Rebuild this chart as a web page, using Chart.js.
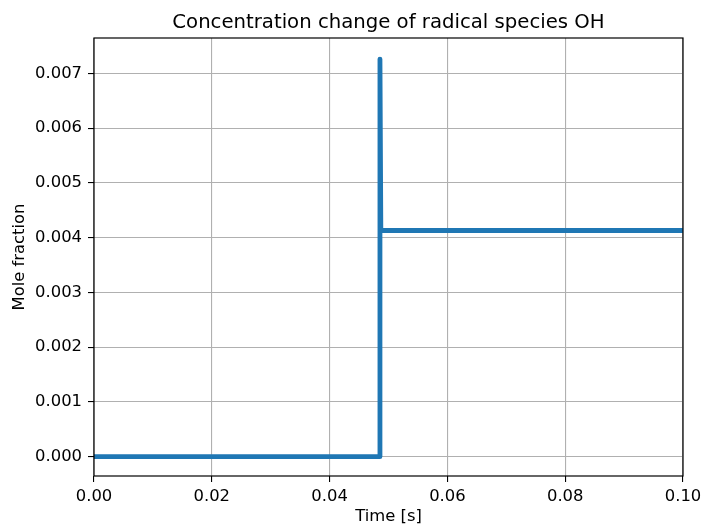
<!DOCTYPE html>
<html>
<head>
<meta charset="utf-8">
<script src="https://cdn.jsdelivr.net/npm/chart.js@4"></script>
<style>
  body { margin: 0; background: #fff; }
</style>
</head>
<body>
<canvas id="ohChart" width="703" height="529"></canvas>
<script>
// OH mole fraction vs. time (ignition spike, then equilibrium level)
const timeS = [0, 0.0485, 0.04855, 0.0487, 0.1]
const ohFraction = [0, 0, 0.00726, 0.00413, 0.00413]
const xTicks = [0, 0.02, 0.04, 0.06, 0.08, 0.1]
const yTicks = [0, 0.001, 0.002, 0.003, 0.004, 0.005, 0.006, 0.007]

const font = 'DejaVu Sans'
const labelSize = 16.4

// frame around the plot area plus the title on top
const frame = {
  id: 'frame',
  afterDraw(chart) {
    const { ctx, chartArea: a } = chart
    ctx.save()
    ctx.strokeStyle = '#000'
    ctx.lineWidth = 1.2
    ctx.strokeRect(a.left, a.top, a.right - a.left, a.bottom - a.top)
    ctx.fillStyle = '#000'
    ctx.font = '19.7px "' + font + '"'
    ctx.textAlign = 'center'
    ctx.textBaseline = 'alphabetic'
    ctx.fillText('Concentration change of radical species OH', (a.left + a.right) / 2, 28)
    ctx.restore()
  }
}

const ctx = document.getElementById('ohChart').getContext('2d')
const ohChart = new Chart(ctx, {
  type: 'scatter',
  data: {
    datasets: [{
      data: timeS.map((t, i) => ({ x: t, y: ohFraction[i] })),
      showLine: true,
      borderColor: '#1f77b4',
      borderWidth: 4.8,
      pointRadius: 0,
      borderJoinStyle: 'round',
      borderCapStyle: 'butt',
      tension: 0
    }]
  },
  options: {
    responsive: false,
    animation: false,
    layout: { padding: { top: 38, right: 20 } },
    plugins: { legend: { display: false }, tooltip: { enabled: false } },
    scales: {
      x: {
        type: 'linear',
        min: 0,
        max: 0.1,
        afterFit: s => { s.height = 53; s.paddingLeft = 0; s.paddingRight = 0 },
        afterBuildTicks: s => { s.ticks = xTicks.map(v => ({ value: v })) },
        grid: { color: '#b0b0b0', lineWidth: 1.1, tickColor: '#000', tickLength: 6 },
        border: { display: false },
        ticks: {
          color: '#000', padding: 5, maxRotation: 0,
          font: { family: font, size: labelSize },
          callback: v => v.toFixed(2)
        },
        title: {
          display: true, text: 'Time [s]', color: '#000',
          font: { family: font, size: labelSize }, padding: { top: 0, bottom: 2 }
        }
      },
      y: {
        type: 'linear',
        min: -0.000352,
        max: 0.007645,
        afterFit: s => { s.width = 94; s.paddingTop = 0; s.paddingBottom = 0 },
        afterBuildTicks: s => { s.ticks = yTicks.map(v => ({ value: v })) },
        grid: { color: '#b0b0b0', lineWidth: 1.1, tickColor: '#000', tickLength: 6 },
        border: { display: false },
        ticks: {
          color: '#000', padding: 6,
          font: { family: font, size: labelSize },
          callback: v => v.toFixed(3)
        },
        title: {
          display: true, text: 'Mole fraction', color: '#000',
          font: { family: font, size: labelSize }, padding: { top: 10, bottom: 0 }
        }
      }
    }
  },
  plugins: [frame]
})
</script>
</body>
</html>
